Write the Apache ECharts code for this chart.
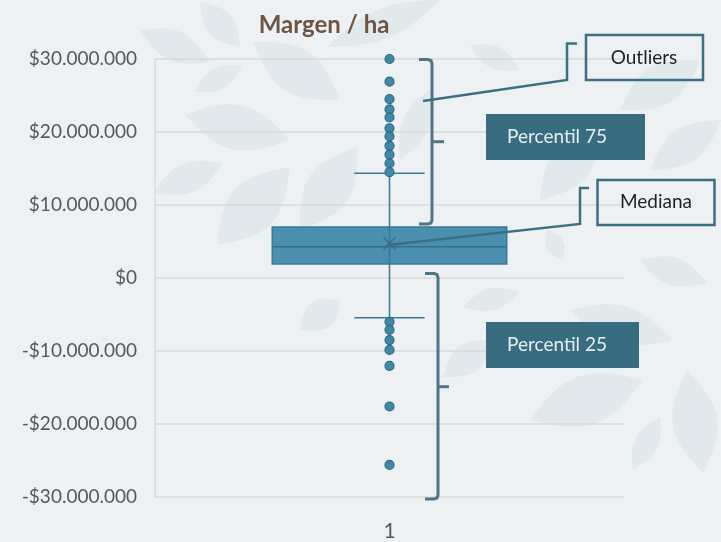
<!DOCTYPE html>
<html>
<head>
<meta charset="utf-8">
<script src="https://cdn.jsdelivr.net/npm/echarts@6/dist/echarts.min.js"></script>
<style>
  html, body { margin: 0; padding: 0; background: #edf1f4; }
  #chart { width: 721px; height: 542px; }
</style>
</head>
<body>
<div id="chart"></div>
<script>
// datos
const categories = ['1']
// [min bigote, Q1, mediana, Q3, max bigote, media]
const boxStats = [-5.45e6, 1.92e6, 4.29e6, 6.99e6, 14.34e6, 4.75e6]
const outliersHigh = [30.0e6, 26.9e6, 24.5e6, 23.1e6, 22.0e6, 20.5e6, 19.4e6, 18.1e6, 16.9e6, 15.7e6, 14.5e6]
const outliersLow = [-6.0e6, -7.1e6, -8.5e6, -9.85e6, -12.05e6, -17.6e6, -25.6e6]
const yTicks = [-30e6, -20e6, -10e6, 0, 10e6, 20e6, 30e6]

let lineColor = '#3b6f84'
let braceColor = '#4f7586'
let font = 'Lato, "Open Sans", sans-serif'

function money(v) {
  let s = Math.abs(v).toFixed(0).replace(/\B(?=(\d{3})+(?!\d))/g, '.')
  return (v < 0 ? '-' : '') + '$' + s
}

// llave "]" con rabito al medio
function brace(x, top, bottom, mid, nub) {
  let pts = [[x - 13, top], [x - 4, top], [x - 1, top + 1], [x, top + 4], [x, bottom - 4], [x - 1, bottom - 1], [x - 4, bottom], [x - 13, bottom]]
  return [
    { type: 'polyline', z: 10, shape: { points: pts }, style: { fill: null, stroke: braceColor, lineWidth: 3 } },
    { type: 'line', z: 10, shape: { x1: x, y1: mid, x2: x + nub, y2: mid }, style: { stroke: braceColor, lineWidth: 3 } },
  ]
}

// hojas del fondo (decoración)
function leaf(x1, y1, x2, y2, w) {
  let dx = x2 - x1, dy = y2 - y1
  let len = Math.sqrt(dx * dx + dy * dy)
  let nx = -dy / len, ny = dx / len
  let pts = []
  for (let i = 0; i <= 16; i++) {
    let t = i / 16, s = Math.sin(Math.PI * t) * w / 2
    pts.push([x1 + dx * t + nx * s, y1 + dy * t + ny * s])
  }
  for (let i = 15; i > 0; i--) {
    let t = i / 16, s = Math.sin(Math.PI * t) * w / 2
    pts.push([x1 + dx * t - nx * s, y1 + dy * t - ny * s])
  }
  return { type: 'polygon', z: -10, silent: true, shape: { points: pts }, style: { fill: '#e2e9ec' } }
}
let leaves = [
  [140, 30, 210, 62, 30], [200, 2, 240, 47, 28], [195, 92, 242, 65, 22], [253, 42, 340, 100, 45],
  [185, 115, 290, 140, 45], [153, 193, 223, 163, 30], [217, 245, 290, 167, 50], [300, 230, 357, 147, 45],
  [327, 47, 440, 0, 30], [400, 160, 433, 87, 28], [470, 45, 520, 70, 22], [540, 200, 600, 130, 40],
  [640, 260, 707, 283, 28], [463, 307, 520, 292, 22], [570, 310, 673, 340, 38], [530, 420, 643, 380, 50],
  [633, 470, 660, 417, 24], [687, 370, 703, 473, 45], [547, 230, 563, 260, 18], [443, 377, 493, 340, 30],
  [620, 110, 700, 60, 40], [650, 170, 721, 120, 35], [300, 330, 340, 300, 30],
]

let chart = echarts.init(document.getElementById('chart'))

let option = {
  backgroundColor: '#edf1f4',
  animation: false,
  title: {
    text: 'Margen / ha',
    left: 319,
    textAlign: 'center',
    top: 8,
    textStyle: { color: '#6e5443', fontSize: 24, fontWeight: 'bold', fontFamily: font },
  },
  grid: { left: 155, right: 97, top: 59, bottom: 45 },
  xAxis: {
    type: 'category',
    data: categories,
    axisLine: { show: false },
    axisTick: { show: false },
    axisLabel: { color: '#595959', fontSize: 21, fontFamily: font, margin: 24 },
  },
  yAxis: {
    type: 'value',
    min: yTicks[0],
    max: yTicks[yTicks.length - 1],
    interval: 10e6,
    axisLine: { show: true, lineStyle: { color: '#d9d9d9', width: 1.5 } },
    axisTick: { show: false },
    splitLine: { lineStyle: { color: '#d9d9d9', width: 1.5 } },
    axisLabel: {
      color: '#595959', fontSize: 19, fontFamily: font, margin: 18,
      formatter: money,
    },
  },
  series: [
    {
      type: 'custom',
      z: 2,
      data: [[0].concat(boxStats)],
      renderItem: function (params, api) {
        let x = api.value(0)
        let band = api.size([1, 0])[0]
        let half = band * 0.25
        let wHalf = band * 0.075
        let pLow = api.coord([x, api.value(1)])
        let pQ1 = api.coord([x, api.value(2)])
        let pMed = api.coord([x, api.value(3)])
        let pQ3 = api.coord([x, api.value(4)])
        let pHigh = api.coord([x, api.value(5)])
        let pMean = api.coord([x, api.value(6)])
        let cx = pMed[0]
        let stroke = { stroke: '#3a7893', lineWidth: 1.5 }
        return {
          type: 'group',
          children: [
            { type: 'line', shape: { x1: cx - wHalf, y1: pHigh[1], x2: cx + wHalf, y2: pHigh[1] }, style: stroke },
            { type: 'line', shape: { x1: cx - wHalf, y1: pLow[1], x2: cx + wHalf, y2: pLow[1] }, style: stroke },
            {
              type: 'rect',
              shape: { x: cx - half, y: pQ3[1], width: half * 2, height: pQ1[1] - pQ3[1] },
              style: { fill: '#4a8fae', stroke: '#3a7893', lineWidth: 1.5 },
            },
            { type: 'line', shape: { x1: cx, y1: pHigh[1], x2: cx, y2: pLow[1] }, style: stroke },
            { type: 'line', shape: { x1: cx - half, y1: pMed[1], x2: cx + half, y2: pMed[1] }, style: { stroke: '#35708a', lineWidth: 1.5 } },
            { type: 'line', shape: { x1: cx - 6, y1: pMean[1] - 6, x2: cx + 6, y2: pMean[1] + 6 }, style: { stroke: '#35708a', lineWidth: 1.5 } },
            { type: 'line', shape: { x1: cx - 6, y1: pMean[1] + 6, x2: cx + 6, y2: pMean[1] - 6 }, style: { stroke: '#35708a', lineWidth: 1.5 } },
          ],
        }
      },
    },
    {
      type: 'scatter',
      z: 3,
      symbolSize: 9,
      itemStyle: { color: '#3f88a7', borderColor: '#2f6b86', borderWidth: 1.2, opacity: 1 },
      data: outliersHigh.concat(outliersLow).map((v) => [0, v]),
    },
  ],
  graphic: [
    ...leaves.map((l) => leaf(l[0], l[1], l[2], l[3], l[4])),
    ...brace(432, 59.5, 224, 141.7, 12),
    ...brace(438, 273.5, 499, 386.7, 11),
    // conector Outliers
    {
      type: 'polyline', z: 10,
      shape: { points: [[423, 101], [567, 80], [567, 43.5], [577, 43.5]] },
      style: { fill: null, stroke: lineColor, lineWidth: 2.5 },
    },
    {
      type: 'rect', z: 10,
      shape: { x: 586, y: 35, width: 117, height: 45 },
      style: { fill: 'rgba(0,0,0,0)', stroke: lineColor, lineWidth: 2.5 },
    },
    {
      type: 'text', z: 11, x: 644, y: 58,
      style: { text: 'Outliers', fill: '#1f1f1f', fontSize: 19, fontFamily: font, align: 'center', verticalAlign: 'middle' },
    },
    // Percentil 75
    {
      type: 'rect', z: 10,
      shape: { x: 486, y: 114, width: 159, height: 46 },
      style: { fill: '#386c80' },
    },
    {
      type: 'text', z: 11, x: 557, y: 137,
      style: { text: 'Percentil 75', fill: '#e6eef1', fontSize: 19, fontFamily: font, align: 'center', verticalAlign: 'middle' },
    },
    // conector Mediana
    {
      type: 'polyline', z: 10,
      shape: { points: [[388, 245], [580, 224], [580, 188], [589, 188]] },
      style: { fill: null, stroke: lineColor, lineWidth: 2.5 },
    },
    {
      type: 'rect', z: 10,
      shape: { x: 597.5, y: 180, width: 117, height: 45 },
      style: { fill: 'rgba(0,0,0,0)', stroke: lineColor, lineWidth: 2.5 },
    },
    {
      type: 'text', z: 11, x: 656, y: 202,
      style: { text: 'Mediana', fill: '#1f1f1f', fontSize: 19, fontFamily: font, align: 'center', verticalAlign: 'middle' },
    },
    // Percentil 25
    {
      type: 'rect', z: 10,
      shape: { x: 486, y: 322, width: 153, height: 46 },
      style: { fill: '#386c80' },
    },
    {
      type: 'text', z: 11, x: 557, y: 345,
      style: { text: 'Percentil 25', fill: '#e6eef1', fontSize: 19, fontFamily: font, align: 'center', verticalAlign: 'middle' },
    },
  ],
}

chart.setOption(option)
</script>
</body>
</html>
